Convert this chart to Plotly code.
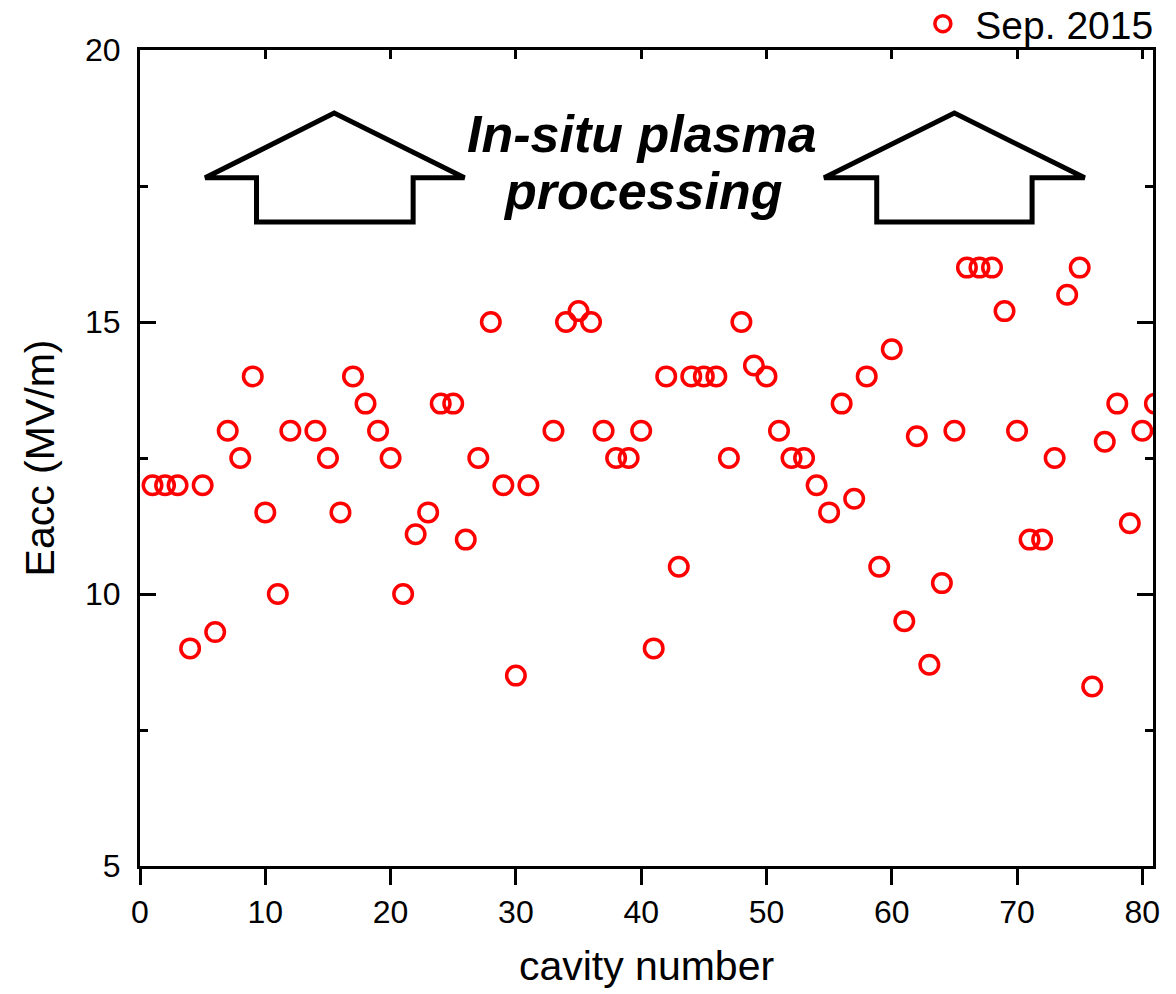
import plotly.graph_objects as go

cavity = [1, 2, 3, 4, 5, 6, 7, 8, 9, 10, 11, 12, 14, 15, 16, 17, 18, 19, 20,
          21, 22, 23, 24, 25, 26, 27, 28, 29, 30, 31, 33, 34, 35, 36, 37, 38, 39, 40,
          41, 42, 43, 44, 45, 46, 47, 48, 49, 50, 51, 52, 53, 54, 55, 56, 57, 58, 59, 60,
          61, 62, 63, 64, 65, 66, 67, 68, 69, 70, 71, 72, 73, 74, 75, 76, 77, 78, 79, 80, 81]
eacc = [12, 12, 12, 9, 12, 9.3, 13, 12.5, 14, 11.5, 10, 13, 13, 12.5, 11.5, 14, 13.5, 13, 12.5,
        10, 11.1, 11.5, 13.5, 13.5, 11, 12.5, 15, 12, 8.5, 12, 13, 15, 15.2, 15, 13, 12.5, 12.5, 13,
        9, 14, 10.5, 14, 14, 14, 12.5, 15, 14.2, 14, 13, 12.5, 12.5, 12, 11.5, 13.5, 11.75, 14, 10.5, 14.5,
        9.5, 12.9, 8.7, 10.2, 13, 16, 16, 16, 15.2, 13, 11, 11, 12.5, 15.5, 16, 8.3, 12.8, 13.5, 11.3, 13, 13.5]
series_name = "Sep. 2015"
x_ticks = [0, 10, 20, 30, 40, 50, 60, 70, 80]
y_ticks = [5, 10, 15, 20]

FONT = "Arial, Liberation Sans, sans-serif"

fig = go.Figure()
fig.add_trace(go.Scatter(
    x=cavity, y=eacc, mode="markers", name=series_name,
    marker=dict(symbol="circle-open", size=18.5, color="#FF0000",
                line=dict(width=3.5, color="#FF0000")),
))
# invisible trace to make top axis render
fig.add_trace(go.Scatter(x=[0], y=[5], xaxis="x2", mode="markers",
                         marker=dict(opacity=0), showlegend=False, hoverinfo="skip"))


def arrow_path(xl, xsl, xa, xsr, xr, yb, yw, ytop):
    return (f"M {xl},{yw} L {xa},{ytop} L {xr},{yw} L {xsr},{yw} L {xsr},{yb} "
            f"L {xsl},{yb} L {xsl},{yw} Z")

shapes = [
    dict(type="path", xref="x", yref="y",
         path=arrow_path(5.2, 9.3, 15.5, 21.8, 25.9, 16.84, 17.65, 18.84),
         line=dict(color="black", width=5), fillcolor="white", layer="above"),
    dict(type="path", xref="x", yref="y",
         path=arrow_path(54.6, 58.8, 65.0, 71.2, 75.4, 16.84, 17.65, 18.84),
         line=dict(color="black", width=5), fillcolor="white", layer="above"),
]

fig.update_layout(
    width=1176, height=994,
    margin=dict(l=140, r=23, t=50, b=128, autoexpand=False),
    plot_bgcolor="white", paper_bgcolor="white",
    font=dict(family=FONT, size=32, color="black"),
    showlegend=True,
    legend=dict(xref="container", yref="container", x=0.985, xanchor="right",
                y=0.976, yanchor="middle",
                bgcolor="rgba(0,0,0,0)", font=dict(size=39), itemwidth=55,
                borderwidth=0, tracegroupgap=0),
    shapes=shapes,
    xaxis=dict(range=[0, 80.85], tickvals=x_ticks, ticks="outside", ticklen=16,
               tickwidth=3, tickcolor="black", showline=True, linewidth=3,
               linecolor="black", mirror=True, showgrid=False, zeroline=False,
               tickfont=dict(size=32), ticklabelstandoff=0,
               title=dict(text="cavity number", font=dict(size=41), standoff=22)),
    xaxis2=dict(range=[0, 80.85], overlaying="x", side="top", tickvals=x_ticks,
                ticks="inside", ticklen=9, tickwidth=3, tickcolor="black",
                showticklabels=False, showline=False, showgrid=False, zeroline=False),
    yaxis=dict(range=[5, 20], tickvals=y_ticks, ticks="inside", ticklen=16,
               tickwidth=3, tickcolor="black", showline=True, linewidth=3,
               linecolor="black", mirror="ticks", showgrid=False, zeroline=False,
               minor=dict(dtick=2.5, tick0=5, ticks="inside", ticklen=8,
                          tickwidth=3, tickcolor="black", showgrid=False),
               tickfont=dict(size=32), ticklabelstandoff=10,
               title=dict(text="Eacc (MV/m)", font=dict(size=41), standoff=18)),
    annotations=[
        dict(text="<b><i>In-situ plasma</i></b>", x=40.1, y=18.45, xref="x", yref="y",
             showarrow=False, font=dict(size=52, family=FONT, color="black"),
             xanchor="center", yanchor="middle"),
        dict(text="<b><i>processing</i></b>", x=40.1, y=17.4, xref="x", yref="y",
             showarrow=False, font=dict(size=52, family=FONT, color="black"),
             xanchor="center", yanchor="middle"),
    ],
)

fig.write_html("out.html")
